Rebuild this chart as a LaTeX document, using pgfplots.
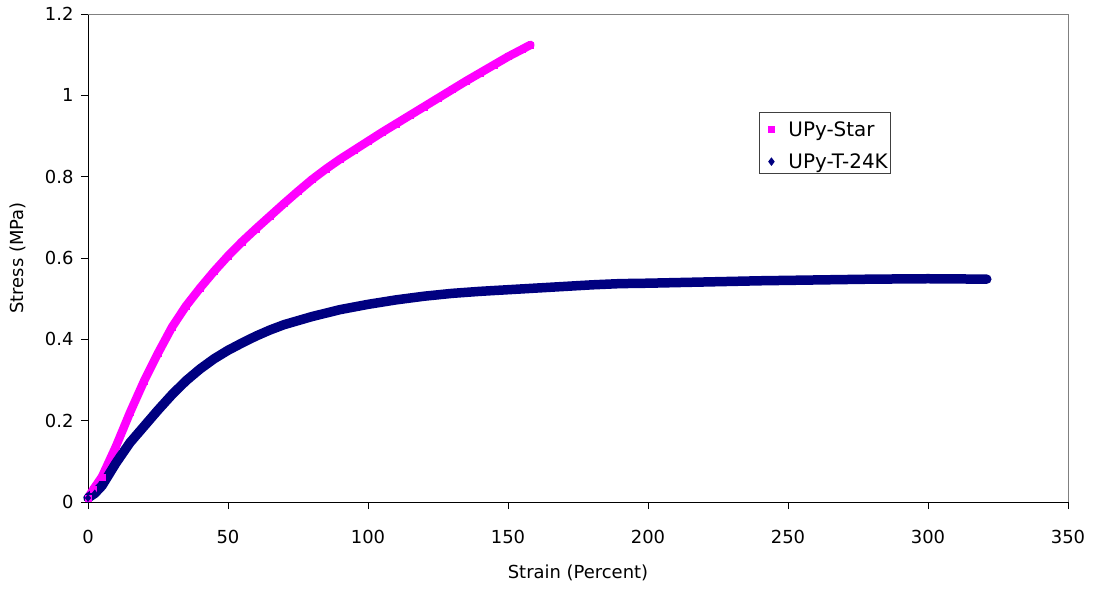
\documentclass[border=0pt]{standalone}
\usepackage{fontspec}
\setmainfont{DejaVu Sans}
\usepackage{pgfplots}
\pgfplotsset{compat=1.18}
\definecolor{upypink}{RGB}{255,0,255}
\definecolor{upynavy}{RGB}{0,0,128}
\pgfplotstableread{
x y
0 0.010
2 0.032
5 0.062
10 0.137
15 0.220
20 0.297
25 0.366
30 0.430
35 0.482
40 0.526
45 0.567
50 0.605
55 0.640
60 0.672
65 0.703
70 0.734
75 0.764
80 0.793
85 0.819
90 0.843
95 0.865
100 0.887
105 0.909
110 0.930
115 0.951
120 0.972
125 0.993
130 1.014
135 1.035
140 1.055
145 1.075
150 1.095
155 1.113
158 1.124
}\star
\pgfplotstableread{
x y
0 0.010
2.4 0.021
5 0.040
10 0.096
15 0.146
20 0.186
25 0.226
30 0.264
35 0.298
40 0.327
45 0.352
50 0.373
55 0.391
60 0.408
65 0.423
70 0.436
80 0.456
90 0.473
100 0.486
110 0.497
120 0.506
130 0.513
140 0.518
150 0.522
160 0.526
170 0.530
180 0.534
190 0.537
200 0.538
220 0.541
240 0.544
260 0.546
280 0.548
300 0.549
321 0.548
}\tk
\begin{document}
\begin{tikzpicture}
\path[use as bounding box] (-88bp,-88bp) rectangle (1006bp,502bp);
\begin{axis}[
  at={(0,0)}, anchor=south west,
  scale only axis, width=980bp, height=488bp,
  xmin=0, xmax=350, ymin=0, ymax=1.2,
  xtick={0,50,...,350}, ytick={0,0.2,...,1.2},
  axis lines*=left,
  axis line style={black, line width=0.9bp},
  tick align=outside, major tick length=7bp,
  tick style={black, line width=0.9bp},
  /pgf/number format/assume math mode=true,
  /pgf/number format/fixed,
  ticklabel style={font=\fontsize{18}{21}\selectfont},
  xticklabel style={yshift=-18bp},
  yticklabel style={xshift=-4bp},
  xlabel={Strain (Percent)}, ylabel={Stress (MPa)},
  label style={font=\fontsize{18}{21}\selectfont},
  xlabel style={at={(axis description cs:0.5,-0.1455)}, anchor=center},
  ylabel style={at={(axis description cs:-0.0714,0.5)}, anchor=center},
  clip=false,
  legend image code/.code={%
    \path[draw=none, fill=none] (0bp,-2.7bp) -- (18bp,-2.7bp);
    \draw[#1] plot coordinates {(9bp,-2.7bp)};},
  legend style={at={(rel axis cs:0.6847,0.7992)}, anchor=north west,
    draw=black!75, line width=0.9bp, font=\fontsize{20}{24}\selectfont,
    inner xsep=3bp, inner ysep=1.5bp, row sep=6bp, column sep=8bp,
    nodes={inner sep=0pt, text height=23bp, text depth=3bp},
    cells={anchor=west}},
]
\draw[gray, line width=0.9bp] (rel axis cs:0,1) -- (rel axis cs:1,1) -- (rel axis cs:1,0);
% UPy-Star
\addplot[upypink, line width=8.5bp, line join=round, line cap=round, forget plot] table[x=x,y=y] {\star};
\addplot[only marks, mark=square*, mark size=3bp, upypink] table[x=x,y=y] {\star};
\addlegendentry{UPy-Star}
% UPy-T-24K
\addplot[upynavy, line width=9.5bp, line join=round, line cap=round, forget plot] table[x=x,y=y] {\tk};
\addplot[only marks, mark=diamond*, mark size=3.6bp, upynavy] table[x=x,y=y] {\tk};
\addlegendentry{UPy-T-24K}
\end{axis}
\end{tikzpicture}
\end{document}
